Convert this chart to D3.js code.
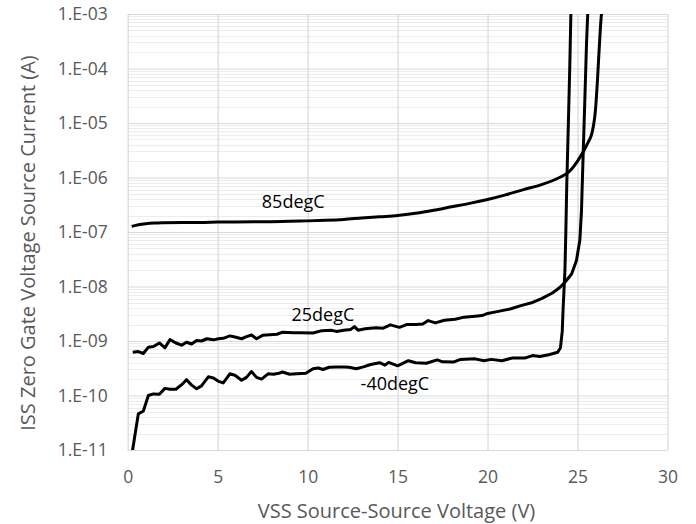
<!DOCTYPE html>
<html>
<head>
<meta charset="utf-8">
<script src="https://cdn.jsdelivr.net/npm/d3@7"></script>
<style>
  body { margin: 0; background: #fff; }
  text { font-family: "Open Sans", sans-serif; }
</style>
</head>
<body>
<div id="chart"></div>
<script>
// data: [V, A]
var curveMinus40 = [
  [0.25, 9e-12], [0.59, 4.6e-11], [0.87, 5.2e-11], [1.15, 1.0e-10], [1.43, 1.07e-10],
  [1.76, 1.05e-10], [2.07, 1.35e-10], [2.35, 1.3e-10], [2.68, 1.3e-10], [3.0, 1.58e-10],
  [3.27, 1.95e-10], [3.55, 1.55e-10], [3.83, 1.33e-10], [4.1, 1.5e-10], [4.48, 2.2e-10],
  [4.76, 2.1e-10], [5.04, 1.82e-10], [5.31, 1.7e-10], [5.68, 2.5e-10], [5.96, 2.35e-10],
  [6.33, 1.9e-10], [6.6, 2.15e-10], [6.88, 2.75e-10], [7.16, 2.15e-10], [7.44, 2.0e-10],
  [7.8, 2.5e-10], [8.1, 2.45e-10], [8.4, 2.55e-10], [8.6, 2.7e-10], [9.0, 2.45e-10],
  [9.4, 2.5e-10], [9.9, 2.55e-10], [10.3, 3.1e-10], [10.6, 3.2e-10], [10.85, 3.0e-10],
  [11.2, 3.3e-10], [11.6, 3.35e-10], [12.0, 3.35e-10], [12.3, 3.3e-10], [12.7, 3.1e-10],
  [13.1, 3.35e-10], [13.5, 3.7e-10], [14.0, 4.0e-10], [14.3, 3.6e-10], [14.5, 4.05e-10],
  [15.0, 3.5e-10], [15.6, 4.35e-10], [16.0, 4.0e-10], [16.6, 3.9e-10], [17.2, 4.5e-10],
  [17.5, 4.15e-10], [18.1, 4.1e-10], [18.5, 4.6e-10], [19.3, 4.7e-10], [19.8, 4.35e-10],
  [20.2, 4.6e-10], [20.8, 4.35e-10], [21.4, 4.9e-10], [22.1, 4.9e-10], [22.5, 5.4e-10],
  [22.9, 5.2e-10], [23.4, 5.6e-10], [23.9, 6.2e-10], [24.05, 7.5e-10], [24.15, 1.5e-9],
  [24.2, 4e-9], [24.3, 2e-8], [24.35, 1e-7], [24.4, 7e-7], [24.45, 3e-6],
  [24.5, 1.3e-5], [24.57, 1.1e-4], [24.63, 1e-3], [24.7, 1.2e-3]
];
var curve25 = [
  [0.28, 6.2e-10], [0.59, 6.4e-10], [0.87, 5.9e-10], [1.15, 7.7e-10], [1.43, 7.9e-10],
  [1.76, 9.2e-10], [2.07, 7.5e-10], [2.35, 1.06e-9], [2.68, 9.2e-10], [3.0, 8.4e-10],
  [3.27, 9.5e-10], [3.55, 8.8e-10], [3.83, 1.02e-9], [4.1, 1.0e-9], [4.4, 1.1e-9],
  [4.76, 1.05e-9], [5.04, 1.1e-9], [5.31, 1.12e-9], [5.68, 1.24e-9], [5.96, 1.18e-9],
  [6.33, 1.1e-9], [6.6, 1.2e-9], [6.88, 1.29e-9], [7.16, 1.1e-9], [7.5, 1.27e-9],
  [7.9, 1.3e-9], [8.3, 1.33e-9], [8.6, 1.45e-9], [9.2, 1.42e-9], [9.6, 1.42e-9],
  [10.3, 1.4e-9], [10.8, 1.55e-9], [11.3, 1.58e-9], [11.6, 1.5e-9], [12.0, 1.58e-9],
  [12.4, 1.63e-9], [12.6, 1.84e-9], [12.8, 1.58e-9], [13.2, 1.68e-9], [13.8, 1.75e-9],
  [14.2, 1.72e-9], [14.6, 1.98e-9], [15.1, 1.78e-9], [15.5, 2.0e-9], [16.0, 2.0e-9],
  [16.4, 2.05e-9], [16.7, 2.37e-9], [17.1, 2.15e-9], [17.6, 2.4e-9], [18.2, 2.5e-9],
  [18.7, 2.74e-9], [19.3, 2.85e-9], [19.7, 2.93e-9], [20.0, 3.2e-9], [20.6, 3.5e-9],
  [21.3, 3.9e-9], [21.9, 4.5e-9], [22.5, 5.1e-9], [23.0, 6.0e-9], [23.6, 7.6e-9],
  [24.0, 9.5e-9], [24.3, 1.2e-8], [24.67, 1.7e-8], [24.94, 3.0e-8], [25.13, 7.1e-8],
  [25.22, 2.5e-7], [25.32, 3.2e-6], [25.4, 2.3e-5], [25.5, 2.9e-4], [25.58, 1.3e-3]
];
var curve85 = [
  [0.22, 1.27e-7], [0.6, 1.36e-7], [1.0, 1.42e-7], [1.5, 1.46e-7], [2.0, 1.48e-7],
  [3.0, 1.5e-7], [4.0, 1.5e-7], [5.0, 1.52e-7], [6.0, 1.53e-7], [7.0, 1.54e-7],
  [8.0, 1.55e-7], [9.0, 1.57e-7], [10.0, 1.6e-7], [11.0, 1.64e-7], [12.0, 1.7e-7],
  [13.0, 1.8e-7], [14.0, 1.9e-7], [15.0, 2.0e-7], [16.0, 2.2e-7], [17.0, 2.5e-7],
  [18.0, 2.9e-7], [19.0, 3.35e-7], [20.0, 3.95e-7], [21.0, 4.8e-7], [22.0, 6.0e-7],
  [23.0, 7.4e-7], [24.0, 1.0e-6], [24.5, 1.25e-6], [25.0, 2.0e-6], [25.3, 2.9e-6],
  [25.6, 4.5e-6], [25.8, 6.5e-6], [26.0, 1.8e-5], [26.1, 5.5e-5], [26.2, 2.2e-4],
  [26.33, 1.0e-3], [26.4, 1.4e-3]
];
var xTicks = [0, 5, 10, 15, 20, 25, 30];
var yTicks = [1e-11, 1e-10, 1e-9, 1e-8, 1e-7, 1e-6, 1e-5, 1e-4, 1e-3];
var yTickLabels = ["1.E-11", "1.E-10", "1.E-09", "1.E-08", "1.E-07", "1.E-06", "1.E-05", "1.E-04", "1.E-03"];
var curveLabels = ["-40degC", "25degC", "85degC"];

var width = 696, height = 524;
var margin = { top: 14, right: 28.5, bottom: 74, left: 127.7 };
var w = width - margin.left - margin.right,
    h = height - margin.top - margin.bottom;

var svg = d3.select("#chart").append("svg")
    .attr("width", width)
    .attr("height", height);

var xScale = d3.scaleLinear().domain([0, 30]).range([0, w]);
var yScale = d3.scaleLog().domain([1e-11, 1e-3]).range([h, 0]);

var g = svg.append("g")
    .attr("transform", "translate(" + margin.left + "," + margin.top + ")");

// minor log gridlines (2..9 in each decade)
var minor = [];
yTicks.slice(0, -1).forEach(function(d) {
  for (var k = 2; k <= 9; k++) minor.push(d * k);
});
g.selectAll(".minor")
   .data(minor)
   .enter()
   .append("line")
   .attr("class", "minor")
   .attr("x1", 0).attr("x2", w)
   .attr("y1", function(d) { return Math.round(yScale(d)) + 0.5; })
   .attr("y2", function(d) { return Math.round(yScale(d)) + 0.5; })
   .attr("stroke", "#ececec")
   .attr("stroke-width", 1);

var yAxis = d3.axisLeft(yScale)
    .tickValues(yTicks)
    .tickFormat(function(d, i) { return yTickLabels[i]; })
    .tickSize(-w)
    .tickPadding(20);
g.append("g")
   .attr("class", "y-axis")
   .call(yAxis);

var xAxis = d3.axisBottom(xScale)
    .tickValues(xTicks)
    .tickSize(-h)
    .tickPadding(21);
g.append("g")
   .attr("class", "x-axis")
   .attr("transform", "translate(0," + h + ")")
   .call(xAxis);

svg.selectAll(".domain").remove();
svg.selectAll(".tick line")
   .attr("stroke", "#d9d9d9")
   .attr("stroke-width", 1.2);
svg.selectAll(".tick text")
   .attr("fill", "#595959")
   .style("font-family", "Open Sans")
   .style("font-size", "17.5px");

g.append("clipPath")
   .attr("id", "plot-clip")
   .append("rect")
   .attr("x", 0).attr("y", 0)
   .attr("width", w).attr("height", h);

var lineStraight = d3.line()
    .x(function(d) { return xScale(d[0]); })
    .y(function(d) { return yScale(d[1]); });
var lineSmooth = d3.line()
    .curve(d3.curveMonotoneX)
    .x(function(d) { return xScale(d[0]); })
    .y(function(d) { return yScale(d[1]); });

var series = [
  { data: curveMinus40, line: lineStraight },
  { data: curve25, line: lineStraight },
  { data: curve85, line: lineSmooth }
];
g.append("g")
   .attr("clip-path", "url(#plot-clip)")
   .selectAll("path")
   .data(series)
   .enter()
   .append("path")
   .attr("d", function(d) { return d.line(d.data); })
   .attr("fill", "none")
   .attr("stroke", "#000")
   .attr("stroke-width", 3)
   .attr("stroke-linejoin", "round");

// curve labels placed at a (V, A) anchor
var labelAnchors = [[14.85, 1.25e-10], [10.85, 2.3e-9], [9.2, 2.7e-7]];
g.selectAll(".curve-label")
   .data(curveLabels)
   .enter()
   .append("text")
   .attr("class", "curve-label")
   .attr("text-anchor", "middle")
   .attr("x", function(d, i) { return xScale(labelAnchors[i][0]); })
   .attr("y", function(d, i) { return yScale(labelAnchors[i][1]); })
   .attr("fill", "#000")
   .style("font-size", "18px")
   .text(function(d) { return d; });

svg.append("text")
   .attr("text-anchor", "middle")
   .attr("x", 396.5)
   .attr("y", 518)
   .attr("fill", "#595959")
   .style("font-size", "20px")
   .text("VSS Source-Source Voltage (V)");
svg.append("text")
   .attr("text-anchor", "middle")
   .attr("transform", "translate(35,243)rotate(-90)")
   .attr("fill", "#595959")
   .style("font-size", "20px")
   .text("ISS Zero Gate Voltage Source Current (A)");
</script>
</body>
</html>
